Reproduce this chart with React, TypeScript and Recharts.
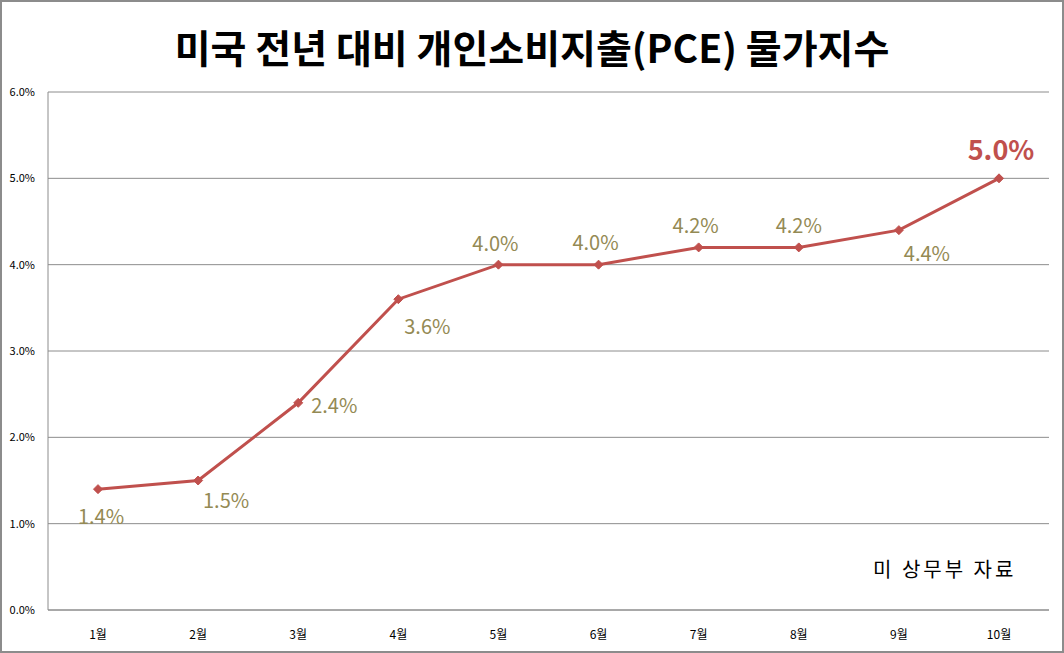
import React from "react";
import { LineChart, Line, XAxis, YAxis, CartesianGrid, LabelList } from "recharts";

const MONTHS = ["1월", "2월", "3월", "4월", "5월", "6월", "7월", "8월", "9월", "10월"];
const PCE = [1.4, 1.5, 2.4, 3.6, 4.0, 4.0, 4.2, 4.2, 4.4, 5.0];
const Y_TICKS = [0, 1, 2, 3, 4, 5, 6];

// 라벨 위치 보정 (점 기준 dx, dy)
const LABEL_OFFSET: [number, number][] = [
  [3, 26],
  [28, 19],
  [36, 2],
  [29, 26],
  [-3, -22],
  [-3, -23],
  [-3, -23],
  [0, -23],
  [28, 22],
  [2, -30],
];

const FONT = "'Noto Sans CJK KR', 'Noto Sans', sans-serif";
const LINE_COLOR = "#C0504D";
const LABEL_COLOR = "#948A54";

const data = MONTHS.map((m, i) => ({ month: m, pce: PCE[i] }));

function Diamond(props: any) {
  const { cx, cy, index } = props;
  if (cx == null || cy == null) return <g key={index} />;
  const r = 4.5;
  return (
    <polygon
      key={index}
      points={`${cx},${cy - r} ${cx + r},${cy} ${cx},${cy + r} ${cx - r},${cy}`}
      fill={LINE_COLOR}
      stroke={LINE_COLOR}
    />
  );
}

function PointLabel(props: any) {
  const { x, y, index, value } = props;
  const [dx, dy] = LABEL_OFFSET[index];
  const last = index === PCE.length - 1;
  return (
    <text
      x={x + dx}
      y={y + dy}
      textAnchor="middle"
      dominantBaseline="central"
      fontFamily={FONT}
      fontSize={last ? 27 : 20}
      fontWeight={last ? 700 : 400}
      fill={last ? LINE_COLOR : LABEL_COLOR}
    >
      {`${Number(value).toFixed(1)}%`}
    </text>
  );
}

export default function App() {
  return (
    <div
      style={{
        position: "fixed",
        left: 0,
        top: 0,
        width: 1064,
        height: 653,
        boxSizing: "border-box",
        border: "2px solid #8c8c8c",
        background: "#fff",
        fontFamily: FONT,
      }}
    >
      <div
        style={{
          position: "absolute",
          left: 0,
          right: 0,
          top: 18,
          textAlign: "center",
          fontSize: 39,
          fontWeight: 700,
          color: "#000",
          lineHeight: "52px",
        }}
      >
        미국 전년 대비 개인소비지출(PCE) 물가지수
      </div>
      <div
        style={{
          position: "absolute",
          left: 871,
          top: 552,
          fontSize: 20,
          letterSpacing: 3,
          color: "#000",
          lineHeight: "30px",
          whiteSpace: "nowrap",
        }}
      >
        미 상무부 자료
      </div>
      <LineChart
        width={1060}
        height={649}
        data={data}
        margin={{ top: 90, right: 13, bottom: 0, left: 0 }}
        style={{ position: "absolute", left: 0, top: 0 }}
      >
        <CartesianGrid horizontal vertical={false} stroke="#8c8c8c" strokeWidth={1} />
        <XAxis
          dataKey="month"
          axisLine={{ stroke: "#8c8c8c" }}
          tickLine={false}
          tick={{ fontSize: 12, fill: "#000", fontFamily: FONT }}
          tickMargin={14}
          height={41}
          padding={{ left: 50, right: 50 }}
          interval={0}
        />
        <YAxis
          type="number"
          domain={[0, 6]}
          ticks={Y_TICKS}
          interval={0}
          axisLine={{ stroke: "#8c8c8c" }}
          tickLine={false}
          tick={{ fontSize: 11, fill: "#000", fontFamily: FONT }}
          tickFormatter={(v: number) => `${v.toFixed(1)}%`}
          tickMargin={7}
          width={46}
        />
        <Line
          type="linear"
          dataKey="pce"
          stroke={LINE_COLOR}
          strokeWidth={3}
          dot={Diamond}
          activeDot={false}
          isAnimationActive={false}
        >
          <LabelList dataKey="pce" content={PointLabel} />
        </Line>
      </LineChart>
    </div>
  );
}
